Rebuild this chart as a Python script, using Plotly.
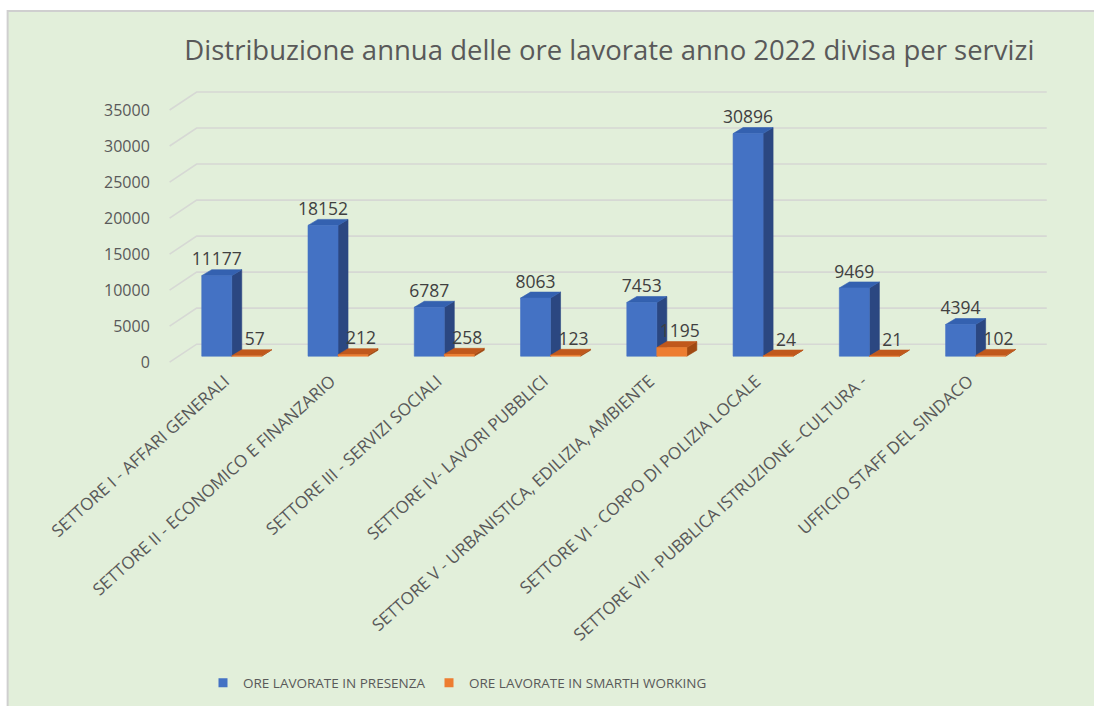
import plotly.graph_objects as go

# ---------------- data ----------------
categories = [
    "SETTORE I - AFFARI GENERALI",
    "SETTORE II - ECONOMICO E FINANZARIO",
    "SETTORE III - SERVIZI SOCIALI",
    "SETTORE IV- LAVORI PUBBLICI",
    "SETTORE V - URBANISTICA, EDILIZIA, AMBIENTE",
    "SETTORE VI - CORPO DI POLIZIA LOCALE",
    "SETTORE VII - PUBBLICA ISTRUZIONE \u2013CULTURA -",
    "UFFICIO STAFF DEL SINDACO",
]
ore_presenza = [11177, 18152, 6787, 8063, 7453, 30896, 9469, 4394]
ore_smart = [57, 212, 258, 123, 1195, 24, 21, 102]
series_names = ["ORE LAVORATE IN PRESENZA", "ORE LAVORATE IN SMARTH WORKING"]
y_ticks = [0, 5000, 10000, 15000, 20000, 25000, 30000, 35000]
y_tick_text = ["0", "5000", "10000", "15000", "20000", "25000", "30000", "35000"]
title_text = "Distribuzione annua delle ore lavorate anno 2022 divisa per servizi"

# ---------------- geometry / style ----------------
W_FIG, H_FIG = 1094, 706
PX_CAT = 106.2          # pixels per category unit
PX_VAL = 0.0072         # pixels per value unit
X_RANGE = [-0.6, 7.7]
Y_RANGE = [-1500, 37500]
ZERO_PX = 356           # pixel row of value 0 on the bar front plane
CAT0_PX = 232           # pixel column of category 0

L = CAT0_PX + X_RANGE[0] * PX_CAT
R = W_FIG - (CAT0_PX + X_RANGE[1] * PX_CAT)
T = ZERO_PX - Y_RANGE[1] * PX_VAL
B = H_FIG - (ZERO_PX - Y_RANGE[0] * PX_VAL)

bar_w = 30 / PX_CAT
bar_dx = 10 / PX_CAT
bar_dy = 6 / PX_VAL
wall_dx = 18 / PX_CAT
wall_dy = 12 / PX_VAL
front_dx = -9 / PX_CAT
front_dy = -6 / PX_VAL
label_shift = -7 / PX_CAT

TEXT = "#595959"
GRID = "#D6D8D4"
BG = "#E2EFDA"
FONT = "Open Sans"

blue = dict(front="#4472C4", top="#3461B0", side="#2B4781")
orange = dict(front="#ED7D31", top="#C0581C", side="#A04912")


def faces(x_lefts, values):
    fr_x, fr_y, tp_x, tp_y, sd_x, sd_y = [], [], [], [], [], []
    for x0, v in zip(x_lefts, values):
        x1 = x0 + bar_w
        fr_x += [x0, x1, x1, x0, x0, None]
        fr_y += [0, 0, v, v, 0, None]
        tp_x += [x0, x1, x1 + bar_dx, x0 + bar_dx, x0, None]
        tp_y += [v, v, v + bar_dy, v + bar_dy, v, None]
        sd_x += [x1, x1 + bar_dx, x1 + bar_dx, x1, x1, None]
        sd_y += [0, bar_dy, v + bar_dy, v, 0, None]
    return (fr_x, fr_y), (tp_x, tp_y), (sd_x, sd_y)


def poly(xy, color):
    return go.Scatter(x=xy[0], y=xy[1], mode="lines", fill="toself",
                      fillcolor=color, line=dict(color=color, width=0.6),
                      hoverinfo="skip", showlegend=False)


fig = go.Figure()

# gridlines (front plane -> back wall -> right)
gx, gy = [], []
for t in y_ticks:
    gx += [-0.5 + front_dx, -0.5 + wall_dx, 7.5 + wall_dx, None]
    gy += [t + front_dy, t + wall_dy, t + wall_dy, None]
fig.add_trace(go.Scatter(x=gx, y=gy, mode="lines",
                         line=dict(color=GRID, width=1.6),
                         hoverinfo="skip", showlegend=False))

idx = list(range(len(categories)))
blue_x = [i - bar_w for i in idx]
orange_x = [i for i in idx]

for xs, vals, col in [(blue_x, ore_presenza, blue), (orange_x, ore_smart, orange)]:
    fr, tp, sd = faces(xs, vals)
    fig.add_trace(poly(sd, col["side"]))
    fig.add_trace(poly(tp, col["top"]))
    fig.add_trace(poly(fr, col["front"]))

# data labels
for xs, vals, nudge in [(blue_x, ore_presenza, 0.0), (orange_x, ore_smart, 0.8 * bar_dx)]:
    fig.add_trace(go.Scatter(
        x=[x + bar_w / 2 + nudge for x in xs], y=[v + bar_dy for v in vals],
        mode="text", text=[str(v) for v in vals], textposition="top center",
        textfont=dict(family=FONT, size=17.5, color="#404040"),
        hoverinfo="skip", showlegend=False))

# legend entries (one legend per series for exact placement)
for name, col, lg in zip(series_names, [blue, orange], ["legend", "legend2"]):
    fig.add_trace(go.Scatter(x=[None], y=[None], mode="markers", name=name, legend=lg,
                             marker=dict(symbol="square", size=9, color=col["front"])))

# invisible trace for the shifted tick-label axis
fig.add_trace(go.Scatter(x=[0], y=[0], yaxis="y2", mode="markers",
                         marker=dict(opacity=0), hoverinfo="skip", showlegend=False))

# background panel with grey top/left border
px2x = lambda p: (p - L) / (W_FIG - L - R)
py2y = lambda p: 1 - (p - T) / (H_FIG - T - B)
fig.add_shape(type="rect", xref="paper", yref="paper",
              x0=px2x(8), x1=px2x(W_FIG + 10), y0=py2y(H_FIG + 10), y1=py2y(11),
              fillcolor=BG, line=dict(color="#CFCFCF", width=2), layer="below")

legend_style = dict(orientation="h", xref="container", yref="container",
                    y=1 - 683 / H_FIG, xanchor="left", yanchor="middle",
                    font=dict(family=FONT, size=13.5, color=TEXT), itemwidth=30,
                    bgcolor="rgba(0,0,0,0)")

fig.update_layout(
    width=W_FIG, height=H_FIG,
    margin=dict(l=L, r=R, t=T, b=B),
    paper_bgcolor="white", plot_bgcolor="rgba(0,0,0,0)",
    font=dict(family=FONT, color=TEXT),
    title=dict(text=title_text, xref="container", yref="container",
               x=0.557, y=1 - 50 / H_FIG, xanchor="center", yanchor="middle",
               font=dict(family=FONT, size=27.5, color=TEXT)),
    xaxis=dict(range=X_RANGE, tickvals=[i + label_shift for i in idx], ticktext=categories,
               tickangle=-42, showgrid=False, zeroline=False, showline=False,
               tickfont=dict(family=FONT, size=17, color=TEXT)),
    yaxis=dict(range=Y_RANGE, visible=False),
    yaxis2=dict(range=[Y_RANGE[0] - front_dy, Y_RANGE[1] - front_dy], overlaying="y",
                side="left", tickvals=y_ticks, ticktext=y_tick_text,
                showgrid=False, zeroline=False,
                showline=False, ticks="outside", ticklen=14, tickcolor="rgba(0,0,0,0)",
                tickfont=dict(family=FONT, size=16, color=TEXT)),
    legend=dict(legend_style, x=(244 - 41) / W_FIG),
    legend2=dict(legend_style, x=(470 - 41) / W_FIG),
    showlegend=True,
)

fig.write_html("out.html")
